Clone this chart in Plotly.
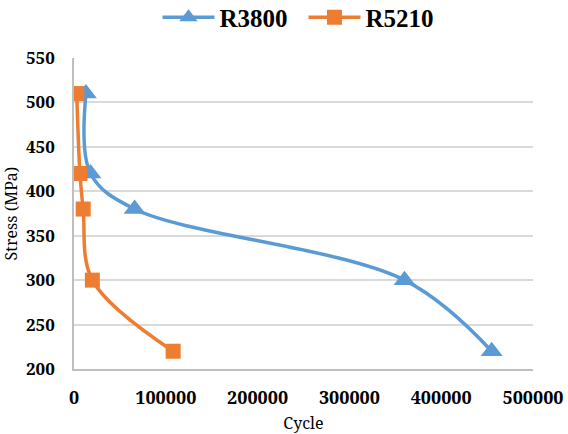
import plotly.graph_objects as go

r3800_cycle = [13000, 18000, 66000, 360000, 455000]
r3800_stress = [510, 420, 380, 300, 220]
r5210_cycle = [3000, 6500, 10000, 20000, 108000]
r5210_stress = [510, 420, 380, 300, 220]

x_ticks = [0, 100000, 200000, 300000, 400000, 500000]
y_ticks = [200, 250, 300, 350, 400, 450, 500, 550]

BIG = "Liberation Serif"
SMALL = "Noto Serif, Liberation Serif, serif"
BLUE = "#5B9BD5"
ORANGE = "#ED7D31"

fig = go.Figure()
fig.add_trace(go.Scatter(
    x=r3800_cycle, y=r3800_stress, name="R3800", mode="lines+markers",
    line=dict(color=BLUE, width=3.5, shape="spline", smoothing=1),
    marker=dict(symbol="triangle-up", size=19, color=BLUE),
))
fig.add_trace(go.Scatter(
    x=r5210_cycle, y=r5210_stress, name="R5210", mode="lines+markers",
    line=dict(color=ORANGE, width=3.5, shape="spline", smoothing=1),
    marker=dict(symbol="square", size=15, color=ORANGE),
))

fig.update_layout(
    width=568, height=434,
    margin=dict(l=74, r=35, t=58, b=65, autoexpand=False),
    paper_bgcolor="white", plot_bgcolor="white",
    font=dict(family=SMALL, color="black"),
    showlegend=True,
    legend=dict(orientation="h", x=0.50, xanchor="center", y=1.13, yanchor="middle",
                font=dict(family=BIG, size=25, color="black", weight="bold"),
                itemwidth=52, entrywidth=79, entrywidthmode="pixels",
                bgcolor="rgba(0,0,0,0)"),
    xaxis=dict(
        range=[0, 500000], tickvals=x_ticks, ticktext=[str(v) for v in x_ticks],
        showgrid=False, zeroline=False, showline=True, linecolor="#BFBFBF", linewidth=1.5,
        tickfont=dict(family=SMALL, size=18, color="black", weight="bold"),
        ticklabelstandoff=12,
        title=dict(text="Cycle", font=dict(family=SMALL, size=16, color="black"), standoff=16),
    ),
    yaxis=dict(
        range=[200, 550], tickvals=y_ticks,
        showgrid=True, gridcolor="#D9D9D9", gridwidth=1.5, zeroline=False,
        showline=True, linecolor="#BFBFBF", linewidth=1.5,
        tickfont=dict(family=SMALL, size=17, color="black", weight="bold"),
        ticklabelstandoff=14,
        title=dict(text="Stress (MPa)", font=dict(family=SMALL, size=16, color="black"), standoff=4),
    ),
)

fig.write_html("out.html")
